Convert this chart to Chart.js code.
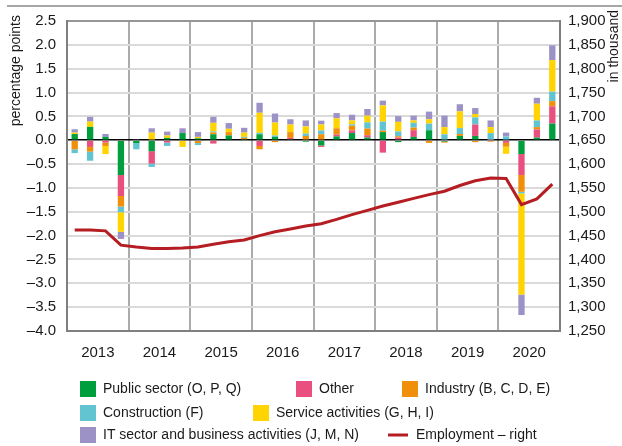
<!DOCTYPE html>
<html>
<head>
<meta charset="utf-8">
<script src="https://cdn.jsdelivr.net/npm/chart.js@4"></script>
<style>
  html, body { margin: 0; padding: 0; background: #fff; }
  canvas { display: block; }
</style>
</head>
<body>
<canvas id="myChart" width="622" height="446"></canvas>
<script>
// 年ラベル（四半期ごとの棒）
const years = ['2013', '2014', '2015', '2016', '2017', '2018', '2019', '2020'];
const quarters = [];
years.forEach((y) => ['Q1', 'Q2', 'Q3', 'Q4'].forEach((q) => quarters.push(y + ' ' + q)));

// percentage points, by sector
const publicSector = [
  0.13, 0.28, 0.07, -0.73,  -0.06, -0.23, 0.05, 0.15,
  0.04, 0.125, 0.10, 0.02,  0.125, 0.07, 0.02, -0.03,
  -0.11, 0.08, 0.15, 0.055,  0.17, -0.04, 0.07, 0.21,
  -0.03, 0.09, 0.09, 0,  0, -0.29, 0.055, 0.35
];
const other = [
  0, -0.14, -0.05, -0.44,  0, -0.26, -0.05, 0,
  0, -0.07, 0, 0,  -0.12, 0, 0.03, 0,
  -0.03, 0.04, 0.055, 0.05,  -0.26, 0.055, 0.14, 0,
  0, 0, 0.24, 0.01,  -0.055, -0.44, 0.17, 0.36
];
const industry = [
  -0.19, -0.10, -0.07, -0.22,  0, 0, 0, 0,
  -0.06, 0.04, 0.07, 0.03,  -0.07, -0.04, 0.12, 0.09,
  0.125, 0.13, 0.10, 0.14,  0.03, 0.03, 0.055, -0.055,
  -0.02, 0.04, -0.04, -0.03,  -0.08, -0.35, 0.05, 0.11
];
const construction = [
  -0.08, -0.19, 0, -0.12,  -0.13, -0.07, -0.07, 0,
  -0.04, 0.02, 0, 0.02,  0.03, 0.03, 0, 0.05,
  0.08, 0, 0.03, 0.13,  0.19, 0.10, 0.10, 0.14,
  0.125, 0.125, 0.15, 0.14,  0.08, -0.035, 0.14, 0.20
];
const services = [
  0.03, 0.11, -0.17, -0.41,  0, 0.16, 0.05, -0.14,
  0.03, 0.18, 0.07, 0.09,  0.42, 0.27, 0.16, 0.15,
  0.125, 0.21, 0.08, 0.14,  0.34, 0.20, 0.05, 0.09,
  0.15, 0.35, 0.07, 0.125,  -0.15, -2.12, 0.35, 0.66
];
const itBusiness = [
  0.07, 0.10, 0.06, -0.15,  0.02, 0.09, 0.08, 0.10,
  0.10, 0.125, 0.12, 0.10,  0.21, 0.19, 0.11, 0.125,
  0.08, 0.11, 0.12, 0.14,  0.10, 0.12, 0.10, 0.16,
  0.24, 0.15, 0.125, 0.14,  0.08, -0.43, 0.125, 0.31
];
// in thousand (right axis)
const employment = [
  1462, 1462, 1460, 1430,  1426, 1423, 1423, 1424,
  1426, 1432, 1437, 1441,  1450, 1458, 1464, 1470,
  1475, 1484, 1494, 1503,  1512, 1520, 1528, 1536,
  1543, 1555, 1565, 1571,  1570, 1515, 1527, 1558
];

const FONT = "'Liberation Sans Narrow', 'Liberation Sans', Arial, sans-serif";
Chart.defaults.font.family = FONT;
Chart.defaults.font.size = 14;
Chart.defaults.color = '#1a1a1a';

function barSet(label, values, color) {
  return {
    type: 'bar',
    label: label,
    data: values,
    backgroundColor: color,
    borderWidth: 0,
    barPercentage: 0.41,
    categoryPercentage: 1,
    xAxisID: 'x',
    yAxisID: 'y',
    stack: 'a',
    order: 1,
  };
}

// 凡例の位置（レイアウト用）
const legendSlots = [
  [80, 389], [296, 389], [402, 389],
  [80, 413], [253, 413],
  [80, 435], [388, 435],
];

const decorations = {
  id: 'decorations',
  afterDraw(chart) {
    const ctx = chart.ctx;
    const area = chart.chartArea;
    ctx.save();
    // top rule
    ctx.strokeStyle = '#a6a6a6';
    ctx.lineWidth = 2;
    ctx.beginPath();
    ctx.moveTo(7, 6);
    ctx.lineTo(622, 6);
    ctx.stroke();
    // plot frame top
    ctx.strokeStyle = '#7f7f7f';
    ctx.lineWidth = 1.5;
    ctx.beginPath();
    ctx.moveTo(area.left, area.top);
    ctx.lineTo(area.right, area.top);
    ctx.stroke();

    // axis titles
    ctx.fillStyle = '#1a1a1a';
    ctx.font = '14px ' + FONT;
    ctx.textAlign = 'right';
    ctx.textBaseline = 'middle';
    ctx.save();
    ctx.translate(16, 15);
    ctx.rotate(-Math.PI / 2);
    ctx.fillText('percentage points', 0, 0);
    ctx.restore();
    ctx.save();
    ctx.translate(614, 10);
    ctx.rotate(-Math.PI / 2);
    ctx.fillText('in thousand', 0, 0);
    ctx.restore();

    // legend
    ctx.textAlign = 'left';
    chart.data.datasets.forEach((ds, i) => {
      const [x, y] = legendSlots[i];
      if (ds.type === 'line') {
        ctx.strokeStyle = ds.borderColor;
        ctx.lineWidth = 3;
        ctx.beginPath();
        ctx.moveTo(x, y);
        ctx.lineTo(x + 20, y);
        ctx.stroke();
        ctx.fillText(ds.label, x + 28, y);
      } else {
        ctx.fillStyle = ds.backgroundColor;
        ctx.fillRect(x, y - 8, 16, 16);
        ctx.fillStyle = '#1a1a1a';
        ctx.fillText(ds.label, x + 23, y);
      }
    });
    ctx.restore();
  },
};

const config = {
  data: {
    labels: quarters,
    datasets: [
      barSet('Public sector (O, P, Q)', publicSector, '#009e3d'),
      barSet('Other', other, '#e9507f'),
      barSet('Industry (B, C, D, E)', industry, '#ef8f0a'),
      barSet('Construction (F)', construction, '#62c4d0'),
      barSet('Service activities (G, H, I)', services, '#ffd400'),
      barSet('IT sector and business activities (J, M, N)', itBusiness, '#9d92c6'),
      {
        type: 'line',
        label: 'Employment \u2013 right',
        data: employment,
        borderColor: '#b51d22',
        borderWidth: 3,
        pointRadius: 0,
        fill: false,
        tension: 0,
        xAxisID: 'x',
        yAxisID: 'y2',
        order: 0,
      },
    ],
  },
  options: {
    responsive: false,
    animation: false,
    devicePixelRatio: 1,
    layout: { padding: { top: 21, left: 0, right: 0, bottom: 0 } },
    plugins: {
      legend: { display: false },
      tooltip: { enabled: false },
    },
    scales: {
      x: {
        type: 'category',
        display: false,
        stacked: true,
        offset: true,
        grid: { display: false },
      },
      x2: {
        type: 'category',
        labels: years,
        position: 'bottom',
        offset: true,
        grid: { offset: true, color: '#ababab', lineWidth: 2, drawTicks: false },
        border: { display: true, color: '#7f7f7f', width: 2 },
        ticks: { padding: 13, font: { size: 15 } },
        afterFit(s) { s.height = 115; },
      },
      y: {
        type: 'linear',
        position: 'left',
        stacked: true,
        min: -4,
        max: 2.5,
        ticks: {
          stepSize: 0.5,
          padding: 11,
          font: { size: 15 },
          callback: (v) => (v < 0 ? '\u2013' + Math.abs(v).toFixed(1) : Math.abs(v).toFixed(1)),
        },
        grid: {
          color: (c) => (c.tick && c.tick.value === 0 ? '#000000' : '#dadada'),
          lineWidth: (c) => (c.tick && c.tick.value === 0 ? 1.5 : 2),
          drawTicks: false,
        },
        border: { color: '#7f7f7f', width: 2 },
        afterFit(s) { s.width = 67; },
      },
      y2: {
        type: 'linear',
        position: 'right',
        min: 1250,
        max: 1900,
        ticks: {
          stepSize: 50,
          padding: 8,
          font: { size: 15 },
          callback: (v) => v.toLocaleString('en-US'),
        },
        grid: { display: false, drawTicks: false },
        border: { display: true, color: '#7f7f7f', width: 2 },
        afterFit(s) { s.width = 62; },
      },
    },
  },
  plugins: [decorations],
};

const myChart = new Chart(document.getElementById('myChart'), config);
</script>
</body>
</html>
